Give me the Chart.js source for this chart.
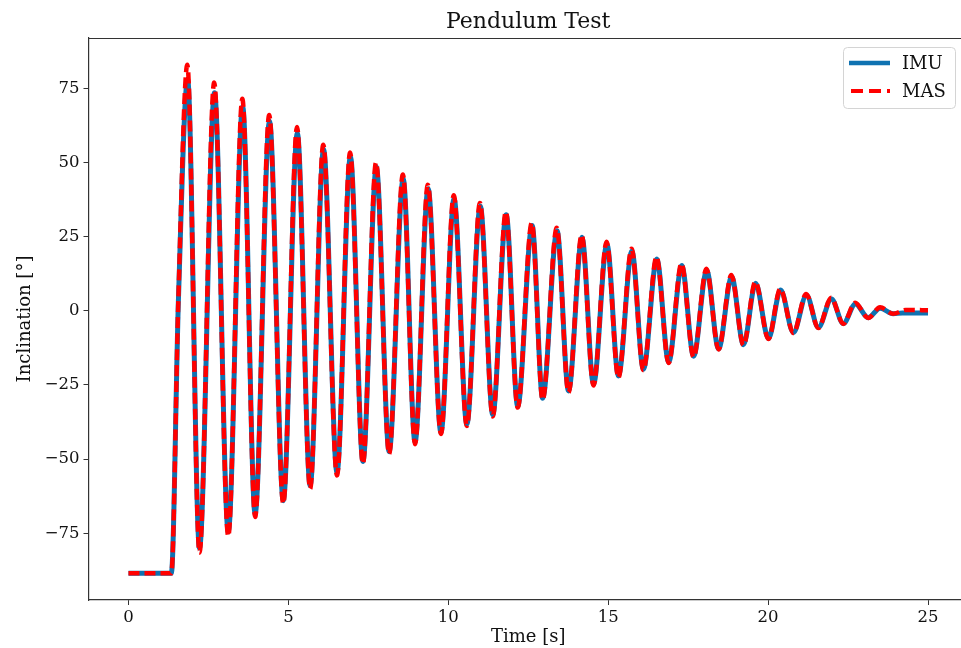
<!DOCTYPE html>
<html>
<head>
<meta charset="utf-8">
<script src="https://cdn.jsdelivr.net/npm/chart.js@4"></script>
<style>
    html, body { margin: 0; padding: 0; background: #fff; overflow: hidden; }
    #wrap { width: 975px; height: 648px; }
</style>
</head>
<body>
<div id="wrap"><canvas id="grafico-pendulo" width="975" height="648"></canvas></div>
<script>
// valores (picos e vales, em segundos / graus)
const tempoMas = [0, 1.34, 1.56, 1.84, 2.22, 2.68, 3.12, 3.56, 3.96, 4.40, 4.84, 5.27, 5.68, 6.09, 6.52, 6.93, 7.33, 7.74, 8.15, 8.58, 8.96, 9.36, 9.77, 10.17, 10.58, 10.99, 11.39, 11.80, 12.17, 12.61, 12.95, 13.39, 13.76, 14.17, 14.54, 14.95, 15.32, 15.73, 16.10, 16.51, 16.89, 17.29, 17.67, 18.07, 18.45, 18.85, 19.23, 19.60, 20.01, 20.38, 20.79, 21.19, 21.57, 21.97, 22.35, 22.72, 23.13, 23.50, 23.91, 24.30, 25.0]
const anguloMas = [-88.5, -88.5, 4, 83, -81.5, 77, -76, 71.5, -69.5, 66, -65, 62, -60, 56, -55.5, 53.4, -51.5, 50, -48.2, 46, -45, 42.5, -41.5, 39, -38.8, 36.4, -35.6, 33.4, -32.6, 29.7, -30, 28, -27.5, 25.6, -25.2, 23.3, -22.5, 20.9, -20, 18.2, -17.6, 15.9, -15.6, 14.2, -13, 12.1, -11.6, 9.8, -9.5, 7.4, -7.5, 5.7, -5.8, 4.4, -4.4, 2.7, -2.4, 1.2, -1.0, 0.3, 0.2]

const tempoImu = [0, 1.34, 1.56, 1.85, 2.22, 2.69, 3.12, 3.57, 3.96, 4.41, 4.84, 5.28, 5.68, 6.10, 6.52, 6.94, 7.33, 7.75, 8.15, 8.59, 8.96, 9.37, 9.77, 10.18, 10.58, 11.00, 11.39, 11.81, 12.17, 12.62, 12.95, 13.40, 13.76, 14.18, 14.54, 14.96, 15.32, 15.74, 16.10, 16.52, 16.89, 17.30, 17.67, 18.08, 18.45, 18.86, 19.23, 19.61, 20.01, 20.39, 20.79, 21.20, 21.57, 21.98, 22.35, 22.73, 23.13, 23.50, 23.91, 24.20, 25.0]
const anguloImu = [-88.5, -88.5, 3, 78, -80, 73.5, -74.5, 69, -68.5, 64, -64, 60, -59, 54.5, -54.5, 52, -50.8, 48.5, -47.5, 44.5, -44.2, 41.2, -41, 37.8, -38.2, 35.3, -35, 32.4, -32.2, 28.8, -29.5, 27, -27, 24.8, -24.8, 22.5, -22, 20.2, -19.7, 17.5, -17.3, 15.3, -15.3, 13.6, -12.8, 11.5, -11.4, 9.3, -9.3, 7, -7.3, 5.3, -5.6, 4, -4.3, 2.3, -2.3, 0.9, -1.0, -0.7, -0.7]

const ticksTempo = [0, 5, 10, 15, 20, 25]
const ticksInclinacao = [-75, -50, -25, 0, 25, 50, 75]

const pontos = (tempos, valores) => tempos.map((t, i) => ({ x: t, y: valores[i] }))
const fonteSerif = "'DejaVu Serif', 'Liberation Serif', serif"
const corImu = '#0f72b1'
const corMas = '#ff0000'

const pluginMoldura = {
    id: 'moldura',
    afterDraw(chart) {
        const ctx = chart.ctx
        const area = chart.chartArea
        ctx.save()
        // borda de cima
        ctx.strokeStyle = '#333'
        ctx.lineWidth = 1.2
        ctx.beginPath()
        ctx.moveTo(area.left, area.top + 0.5)
        ctx.lineTo(area.right, area.top + 0.5)
        ctx.stroke()

        // titulo
        ctx.fillStyle = '#111'
        ctx.font = `22px ${fonteSerif}`
        ctx.textAlign = 'center'
        ctx.textBaseline = 'middle'
        ctx.fillText('Pendulum Test', (area.left + area.right) / 2, 22)

        // legenda
        const x = 843, y = 47, w = 112, h = 61
        ctx.beginPath()
        ctx.roundRect(x + 0.5, y + 0.5, w, h, 4)
        ctx.fillStyle = 'rgba(255,255,255,0.85)'
        ctx.fill()
        ctx.strokeStyle = '#d4d4d4'
        ctx.lineWidth = 1
        ctx.stroke()

        ctx.lineWidth = 4.5
        ctx.strokeStyle = corImu
        ctx.beginPath()
        ctx.moveTo(849, 63)
        ctx.lineTo(890, 63)
        ctx.stroke()

        ctx.strokeStyle = corMas
        ctx.lineWidth = 4
        ctx.setLineDash([12, 6])
        ctx.beginPath()
        ctx.moveTo(851, 91)
        ctx.lineTo(890, 91)
        ctx.stroke()
        ctx.setLineDash([])

        ctx.fillStyle = '#111'
        ctx.font = `18px ${fonteSerif}`
        ctx.textAlign = 'left'
        ctx.fillText('IMU', 902, 64)
        ctx.fillText('MAS', 902, 92)
        ctx.restore()
    }
}

const formatarTick = v => v < 0 ? '\u2212' + Math.abs(v) : String(v)

let myChartPendulo = new Chart(
    document.getElementById('grafico-pendulo'),
    {
        type: 'line',
        data: {
            datasets: [
                {
                    label: 'IMU',
                    data: pontos(tempoImu, anguloImu),
                    borderColor: corImu,
                    borderWidth: 5,
                    pointRadius: 0,
                    cubicInterpolationMode: 'monotone',
                    order: 1
                },
                {
                    label: 'MAS',
                    data: pontos(tempoMas, anguloMas),
                    borderColor: corMas,
                    borderWidth: 4.5,
                    borderDash: [11, 5],
                    pointRadius: 0,
                    cubicInterpolationMode: 'monotone',
                    order: 0
                }
            ]
        },
        options: {
            responsive: false,
            animation: false,
            layout: { padding: { top: 38, right: 7, bottom: 0, left: 0 } },
            plugins: {
                legend: { display: false },
                title: { display: false },
                tooltip: { enabled: false }
            },
            scales: {
                x: {
                    type: 'linear',
                    min: -1.25,
                    max: 26.25,
                    afterBuildTicks: s => { s.ticks = ticksTempo.map(v => ({ value: v })) },
                    afterFit: s => { s.height = 48 },
                    grid: { drawOnChartArea: false, drawTicks: true, tickLength: 5, color: '#333' },
                    border: { display: true, color: '#333', width: 1.2 },
                    ticks: { color: '#111', padding: 3, maxRotation: 0, font: { family: fonteSerif, size: 16.5 }, callback: formatarTick },
                    title: { display: true, text: 'Time [s]', color: '#111', padding: { top: 0, bottom: 0 }, font: { family: fonteSerif, size: 18 } }
                },
                y: {
                    type: 'linear',
                    min: -97.5,
                    max: 92,
                    afterBuildTicks: s => { s.ticks = ticksInclinacao.map(v => ({ value: v })) },
                    afterFit: s => { s.width = 88.5 },
                    grid: { drawOnChartArea: false, drawTicks: true, tickLength: 5, color: '#333' },
                    border: { display: true, color: '#333', width: 1.2 },
                    ticks: { color: '#111', padding: 4, font: { family: fonteSerif, size: 16.5 }, callback: formatarTick },
                    title: { display: true, text: 'Inclination [°]', color: '#111', padding: { top: 15, bottom: 0 }, font: { family: fonteSerif, size: 18 } }
                }
            }
        },
        plugins: [pluginMoldura]
    }
)
</script>
</body>
</html>
